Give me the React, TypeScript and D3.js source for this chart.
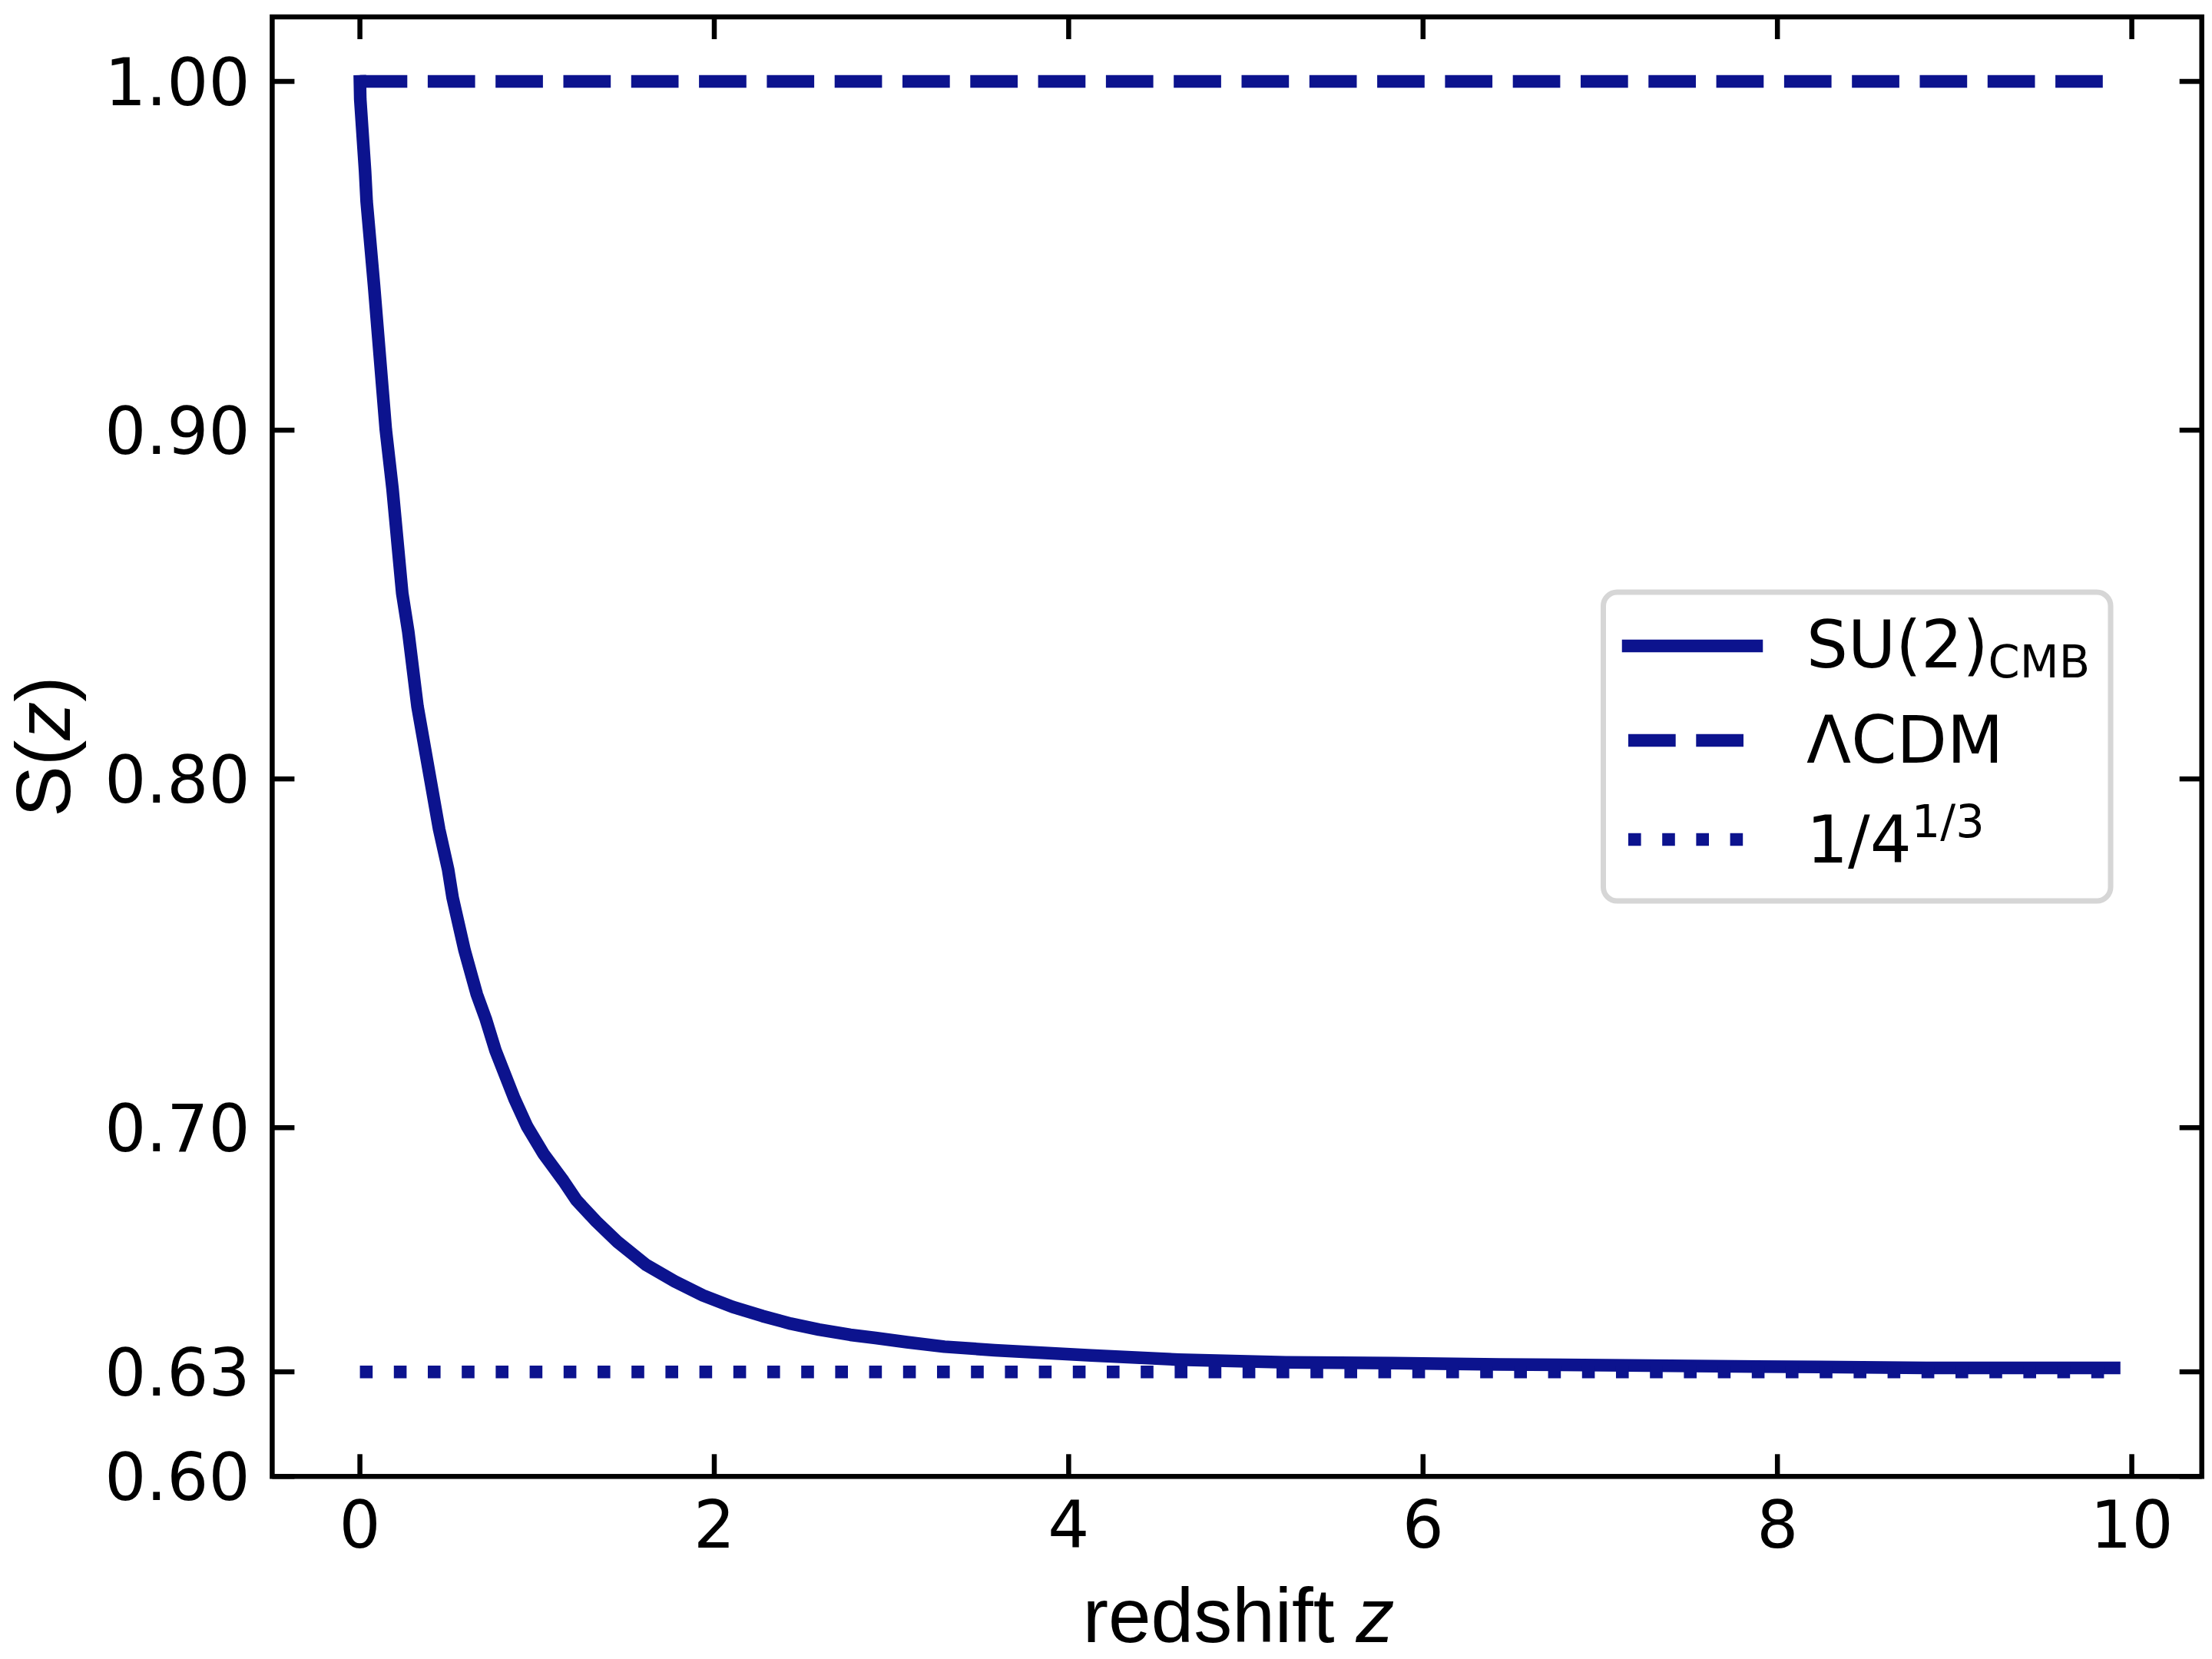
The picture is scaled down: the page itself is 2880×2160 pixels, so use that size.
import { useRef, useEffect } from 'react';
import * as d3 from 'd3';

// ---------------------------------------------------------------------------
// Data
// ---------------------------------------------------------------------------

const redshift = [
  0, 0.002, 0.029, 0.038, 0.08, 0.146, 0.184, 0.239, 0.273, 0.325, 0.447, 0.498,
  0.523, 0.556, 0.591, 0.66, 0.71, 0.766, 0.8, 0.872, 0.944, 1.035, 1.148, 1.222,
  1.334, 1.453, 1.614, 1.777, 1.936, 2.104, 2.272, 2.432, 2.591, 2.768, 2.91, 3.087,
  3.299, 3.582, 4.128, 4.62, 5.225, 5.83, 6.43, 7.03, 7.64, 8.24, 8.84, 9.9,
];

const suCmb = [
  1.0, 0.9949, 0.9744, 0.9656, 0.9413, 0.9002, 0.8832, 0.8532, 0.8422, 0.8208, 0.7856, 0.774,
  0.766, 0.7586, 0.7508, 0.7382, 0.7312, 0.722, 0.7176, 0.7083, 0.7003, 0.6926, 0.6848, 0.6792,
  0.6731, 0.6673, 0.6607, 0.6559, 0.6519, 0.6486, 0.646, 0.6438, 0.6421, 0.6406, 0.6397, 0.6385,
  0.6372, 0.6362, 0.6347, 0.6335, 0.6327, 0.6325, 0.6321, 0.6319, 0.6316, 0.6314, 0.6311, 0.6311,
];

const lcdmValue = 1.0;
const asymptoteValue = 0.62996;

const xTicks = [0, 2, 4, 6, 8, 10];
const xTickLabels = ['0', '2', '4', '6', '8', '10'];
const yTicks = [0.6, 0.63, 0.7, 0.8, 0.9, 1.0];
const yTickLabels = ['0.60', '0.63', '0.70', '0.80', '0.90', '1.00'];

const legendMain = ['SU(2)', 'ΛCDM', '1/4'];
const legendScript = ['CMB', '', '1/3'];
const legendStyles = ['solid', 'dashed', 'dotted'];

// ---------------------------------------------------------------------------
// Styling
// ---------------------------------------------------------------------------

const WIDTH = 2880;
const HEIGHT = 2160;
const PLOT = { left: 354.4, right: 2866.7, top: 22, bottom: 1922.3 };
const LINE_COLOR = '#0c138e';
const LW = 16.5;
const SPINE_W = 6.5;
const TICK_LEN = 29;
const TICK_FONT = '"DejaVu Sans", sans-serif';
const LABEL_FONT = '"Liberation Sans", Arial, sans-serif';
const DASH = '61.7 26.6';
const DOT = '16.6 27.6';

export default function App() {
  const svgRef = useRef<SVGSVGElement>(null);

  useEffect(() => {
    if (!svgRef.current) return;
    const svg = d3.select(svgRef.current);
    svg.selectAll('*').remove();

    const x = d3.scaleLinear().domain([-0.495, 10.395]).range([PLOT.left, PLOT.right]);
    const y = d3.scaleLinear().domain([0.6, 1.0185]).range([PLOT.bottom, PLOT.top]);

    svg.append('rect').attr('width', WIDTH).attr('height', HEIGHT).attr('fill', '#fff');

    const line = d3.line<[number, number]>()
      .x((d) => x(d[0]))
      .y((d) => y(d[1]));

    const zStart = redshift[0];
    const zEnd = redshift[redshift.length - 1];
    const pts: [number, number][] = redshift.map((z, i) => [z, suCmb[i]]);

    // SU(2)_CMB curve
    svg.append('path')
      .attr('d', line(pts))
      .attr('fill', 'none')
      .attr('stroke', LINE_COLOR)
      .attr('stroke-width', LW)
      .attr('stroke-linejoin', 'round')
      .attr('stroke-linecap', 'square');

    // LCDM
    svg.append('path')
      .attr('d', line([[zStart, lcdmValue], [zEnd, lcdmValue]]))
      .attr('fill', 'none')
      .attr('stroke', LINE_COLOR)
      .attr('stroke-width', LW)
      .attr('stroke-dasharray', DASH)
      .attr('stroke-linecap', 'butt');

    // 1/4^(1/3) asymptote
    svg.append('path')
      .attr('d', line([[zStart, asymptoteValue], [zEnd, asymptoteValue]]))
      .attr('fill', 'none')
      .attr('stroke', LINE_COLOR)
      .attr('stroke-width', LW)
      .attr('stroke-dasharray', DOT)
      .attr('stroke-linecap', 'butt');

    // Frame
    svg.append('rect')
      .attr('x', PLOT.left)
      .attr('y', PLOT.top)
      .attr('width', PLOT.right - PLOT.left)
      .attr('height', PLOT.bottom - PLOT.top)
      .attr('fill', 'none')
      .attr('stroke', '#000')
      .attr('stroke-width', SPINE_W);

    // X ticks (inward, bottom + top)
    xTicks.forEach((t, i) => {
      const px = x(t);
      svg.append('line')
        .attr('x1', px).attr('x2', px)
        .attr('y1', PLOT.bottom).attr('y2', PLOT.bottom - TICK_LEN)
        .attr('stroke', '#000').attr('stroke-width', SPINE_W);
      svg.append('line')
        .attr('x1', px).attr('x2', px)
        .attr('y1', PLOT.top).attr('y2', PLOT.top + TICK_LEN)
        .attr('stroke', '#000').attr('stroke-width', SPINE_W);
      svg.append('text')
        .attr('x', px)
        .attr('y', 2015)
        .attr('text-anchor', 'middle')
        .attr('font-family', TICK_FONT)
        .attr('font-size', 85)
        .attr('fill', '#000')
        .text(xTickLabels[i]);
    });

    // Y ticks (inward, left + right)
    yTicks.forEach((t, i) => {
      const py = y(t);
      svg.append('line')
        .attr('x1', PLOT.left).attr('x2', PLOT.left + TICK_LEN)
        .attr('y1', py).attr('y2', py)
        .attr('stroke', '#000').attr('stroke-width', SPINE_W);
      svg.append('line')
        .attr('x1', PLOT.right).attr('x2', PLOT.right - TICK_LEN)
        .attr('y1', py).attr('y2', py)
        .attr('stroke', '#000').attr('stroke-width', SPINE_W);
      svg.append('text')
        .attr('x', 325.5)
        .attr('y', py + 31)
        .attr('text-anchor', 'end')
        .attr('font-family', TICK_FONT)
        .attr('font-size', 85)
        .attr('fill', '#000')
        .text(yTickLabels[i]);
    });

    // Axis titles
    const xt = svg.append('text')
      .attr('x', (PLOT.left + PLOT.right) / 2 + 2)
      .attr('y', 2138)
      .attr('text-anchor', 'middle')
      .attr('font-family', LABEL_FONT)
      .attr('font-size', 100)
      .attr('fill', '#000')
      .style('white-space', 'pre');
    xt.append('tspan').text('redshift ');
    xt.append('tspan').attr('font-style', 'italic').text('z');

    const yt = svg.append('text')
      .attr('transform', `translate(91, ${(PLOT.top + PLOT.bottom) / 2}) rotate(-90)`)
      .attr('text-anchor', 'middle')
      .attr('font-family', LABEL_FONT)
      .attr('font-size', 100)
      .attr('fill', '#000');
    yt.append('tspan').text('S(');
    yt.append('tspan').attr('font-style', 'italic').text('z');
    yt.append('tspan').text(')');

    // Legend
    const lg = svg.append('g');
    lg.append('rect')
      .attr('x', 2087.5)
      .attr('y', 771)
      .attr('width', 660.5)
      .attr('height', 402)
      .attr('rx', 18)
      .attr('fill', '#fff')
      .attr('stroke', '#d6d6d6')
      .attr('stroke-width', 7);

    const handleY = [841, 964, 1093];
    const textY = [869, 993, 1123];
    legendMain.forEach((label, i) => {
      const style = legendStyles[i];
      lg.append('line')
        .attr('x1', 2120).attr('x2', 2287)
        .attr('y1', handleY[i]).attr('y2', handleY[i])
        .attr('stroke', LINE_COLOR)
        .attr('stroke-width', LW)
        .attr('stroke-linecap', style === 'solid' ? 'square' : 'butt')
        .attr('stroke-dasharray', style === 'dashed' ? DASH : style === 'dotted' ? DOT : null);

      const t = lg.append('text')
        .attr('x', 2352)
        .attr('y', textY[i])
        .attr('font-family', TICK_FONT)
        .attr('font-size', 85)
        .attr('fill', '#000');
      t.append('tspan').text(label);
      if (legendScript[i]) {
        const isSub = i === 0;
        t.append('tspan')
          .attr('font-size', 59)
          .attr('dy', isSub ? 13 : -33)
          .text(legendScript[i]);
      }
    });
  }, []);

  return (
    <div style={{ position: 'absolute', left: 0, top: 0, width: WIDTH, height: HEIGHT }}>
      <svg ref={svgRef} width={WIDTH} height={HEIGHT} style={{ display: 'block' }} />
    </div>
  );
}
